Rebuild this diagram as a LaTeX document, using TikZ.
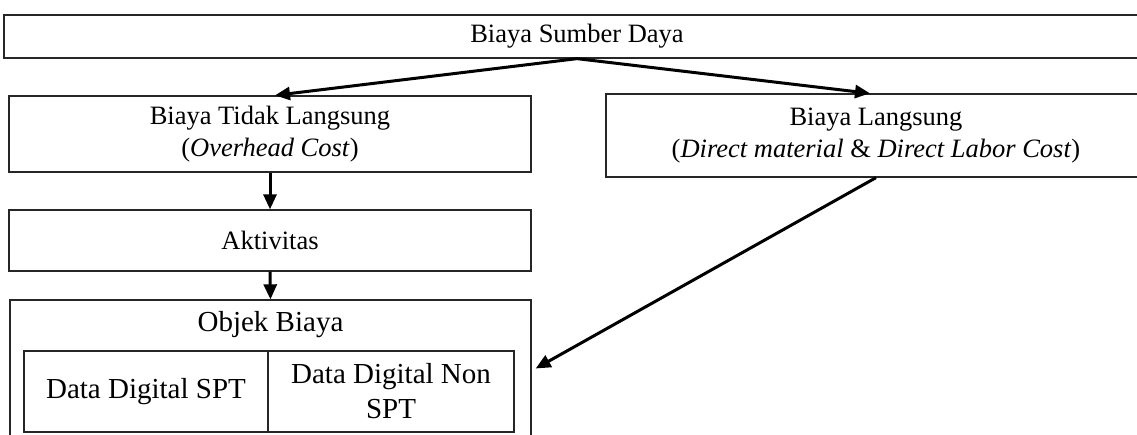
\documentclass[tikz,border=0pt]{standalone}
\usepackage{fontspec}
\setmainfont{Liberation Serif}
\usetikzlibrary{arrows.meta,calc}
\begin{document}
\begin{tikzpicture}[x=1pt,y=-1pt,
  box/.style={draw=black!85,line width=1.3pt,inner sep=0pt,align=center,font=\fontsize{26.5}{32}\selectfont},
  cell/.style={draw=black!85,line width=1.1pt,inner sep=0pt,align=center,font=\fontsize{29}{35}\selectfont},
  arr/.style={line width=3pt,-{Triangle[length=15pt,width=13pt]}}]
\useasboundingbox (0,0) rectangle (1137,435);
\fill[white] (0,0) rectangle (1137,435);
\node[box,minimum width=1146pt,minimum height=43pt] (top) at (577,36.5) {Biaya Sumber Daya};
\node[box,minimum width=522pt,minimum height=76pt] (left) at (270,134) {Biaya Tidak Langsung\\(\textit{Overhead Cost})};
\node[box,minimum width=540pt,minimum height=83pt] (right) at (876,135.5) {Biaya Langsung\\(\textit{Direct material} \& \textit{Direct Labor Cost})};
\node[box,minimum width=522pt,minimum height=61pt] (akt) at (270,240.5) {Aktivitas};
\node[box,minimum width=521pt,minimum height=145pt] (obj) at (270.5,372.5) {};
\node[font=\fontsize{29}{35}\selectfont,inner sep=0pt] (objt) at (270.5,325) {Objek Biaya};
\node[cell,minimum width=244pt,minimum height=81pt] (spt) at (146,391.5) {Data Digital SPT};
\node[cell,minimum width=246pt,minimum height=81pt] (nspt) at (391,391.5) {Data Digital Non\\SPT};
\draw[arr] (top.south) -- ($(left.north)+(5,0)$);
\draw[arr] (top.south) -- ($(right.north)+(-6,0)$);
\draw[arr] (left.south) -- (akt.north);
\draw[arr] (akt.south) -- (obj.north);
\draw[arr] (right.south) -- ($(obj.east)+(4,-4)$);
\end{tikzpicture}
\end{document}
